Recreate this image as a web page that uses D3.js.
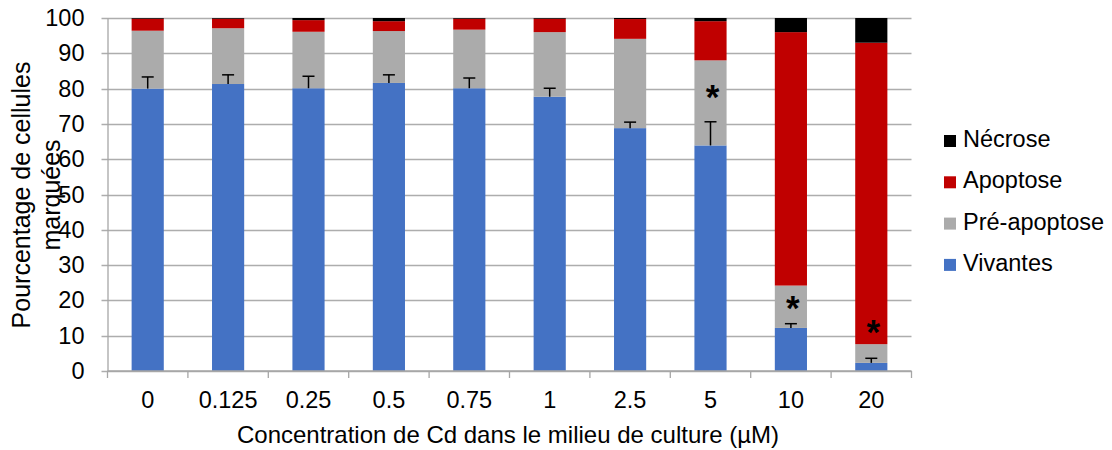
<!DOCTYPE html>
<html>
<head>
<meta charset="utf-8">
<script src="https://cdn.jsdelivr.net/npm/d3@7"></script>
<style>
body { margin: 0; background: #fff; }
text { font-family: "Liberation Sans", Arial, sans-serif; fill: #000; }
</style>
</head>
<body>
<svg id="chart" width="1112" height="450"></svg>
<script>
var concentrations = ["0", "0.125", "0.25", "0.5", "0.75", "1", "2.5", "5", "10", "20"];
var vivantes    = [80.0, 81.3, 80.1, 81.6, 80.1, 77.7, 68.8, 63.9, 12.2, 2.3];
var preApoptose = [16.4, 15.8, 16.0, 14.7, 16.6, 18.3, 25.3, 24.1, 12.0, 5.3];
var apoptose    = [3.4, 2.7, 3.3, 2.8, 3.1, 3.8, 5.6, 11.1, 71.8, 85.4];
var necrose     = [0.2, 0.2, 0.6, 0.9, 0.2, 0.2, 0.3, 0.9, 4.0, 7.0];
var errVivantes = [3.3, 2.6, 3.4, 2.3, 2.9, 2.4, 1.7, 6.7, 1.2, 1.3];
// asterisk (significance) level, by category
var asterisks = [null, null, null, null, null, null, null, 78.7, 19.0, 12.2];
var yTicks = [0, 10, 20, 30, 40, 50, 60, 70, 80, 90, 100];

var seriesNames  = ["Vivantes", "Pré-apoptose", "Apoptose", "Nécrose"];
var seriesColors = ["#4472C4", "#ABABAB", "#C00000", "#000000"];

var svg = d3.select('#chart');
var margin_left = 107.5, margin_right = 911.5, top_y = 18, bottom_y = 371;

var x = d3.scaleBand().domain(concentrations).range([margin_left, margin_right]).paddingInner(0.6).paddingOuter(0.3);
var xb = d3.scaleBand().domain(concentrations).range([margin_left, margin_right]);
var y = d3.scaleLinear().domain([0, 100]).range([bottom_y, top_y]);

var rows = concentrations.map(function(c, i) {
    return { c: c, "Vivantes": vivantes[i], "Pré-apoptose": preApoptose[i], "Apoptose": apoptose[i], "Nécrose": necrose[i] };
});
var stacked = d3.stack().keys(seriesNames)(rows);

// grid
svg.append('g').selectAll('line').data(yTicks).enter().append('line')
    .attr('x1', margin_left - 6).attr('x2', margin_right)
    .attr('y1', function(d) { return Math.round(y(d)) + 0.5; })
    .attr('y2', function(d) { return Math.round(y(d)) + 0.5; })
    .attr('stroke', '#ADADAD').attr('stroke-width', 1.3);

// bars
svg.append('g').selectAll('g').data(stacked).enter().append('g')
    .attr('fill', function(d, i) { return seriesColors[i]; })
    .selectAll('rect').data(function(d) { return d; }).enter().append('rect')
    .attr('x', function(d) { return x(d.data.c); })
    .attr('width', x.bandwidth())
    .attr('y', function(d) { return y(d[1]); })
    .attr('height', function(d) { return y(d[0]) - y(d[1]); });

// error bars (upper only)
var eb = svg.append('g').attr('stroke', '#000').attr('stroke-width', 1.5);
concentrations.forEach(function(c, i) {
    var cx = x(c) + x.bandwidth() / 2;
    eb.append('line').attr('x1', cx).attr('x2', cx)
        .attr('y1', y(vivantes[i])).attr('y2', y(vivantes[i] + errVivantes[i]));
    eb.append('line').attr('x1', cx - 6).attr('x2', cx + 6)
        .attr('y1', y(vivantes[i] + errVivantes[i])).attr('y2', y(vivantes[i] + errVivantes[i]));
});

// asterisks
svg.append('g').selectAll('text').data(concentrations.filter(function(c, i) { return asterisks[i] != null; }))
    .enter().append('text')
    .attr('x', function(c) { return x(c) + x.bandwidth() / 2 + 2; })
    .attr('y', function(c) { return y(asterisks[concentrations.indexOf(c)]) + 16; })
    .attr('text-anchor', 'middle')
    .style('font-size', '35px').style('font-weight', 'bold')
    .text('*');

// axes
var yAxis = d3.axisLeft(y).tickValues(yTicks).tickSize(0).tickPadding(23);
svg.append('g').attr('transform', 'translate(' + margin_left + ',0)').call(yAxis)
    .call(function(g) {
        g.select('.domain').attr('stroke', '#A6A6A6').attr('stroke-width', 1.3);
        g.selectAll('text').style('font-size', '23.5px').attr('font-family', null);
    });

var xAxis = d3.axisBottom(xb).tickSize(0).tickPadding(20);
svg.append('g').attr('transform', 'translate(0,' + bottom_y + ')').call(xAxis)
    .call(function(g) {
        g.select('.domain').remove();
        g.selectAll('text').style('font-size', '23.5px').attr('font-family', null);
    });
svg.append('line').attr('x1', margin_left).attr('x2', margin_right)
    .attr('y1', bottom_y).attr('y2', bottom_y).attr('stroke', '#A6A6A6').attr('stroke-width', 1.3);
svg.append('g').selectAll('line').data(concentrations.concat(['end'])).enter().append('line')
    .attr('x1', function(d) { return d == 'end' ? margin_right : xb(d); })
    .attr('x2', function(d) { return d == 'end' ? margin_right : xb(d); })
    .attr('y1', bottom_y).attr('y2', bottom_y + 7)
    .attr('stroke', '#A6A6A6').attr('stroke-width', 1.3);

// axis titles
svg.append('text').attr('x', 508).attr('y', 443)
    .attr('text-anchor', 'middle').style('font-size', '24px')
    .text('Concentration de Cd dans le milieu de culture (µM)');
var yt = svg.append('text').attr('transform', 'translate(30,195) rotate(-90)')
    .attr('text-anchor', 'middle').style('font-size', '25px');
yt.append('tspan').attr('x', 0).attr('y', 0).text('Pourcentage de cellules');
yt.append('tspan').attr('x', 0).attr('y', 30).text('marquées');

// legend
var legend = svg.append('g').attr('transform', 'translate(944,0)');
var legendOrder = seriesNames.slice().reverse();
legend.selectAll('g').data(legendOrder).enter().append('g')
    .attr('transform', function(d, i) { return 'translate(0,' + (147 + i * 41.3) + ')'; })
    .each(function(d) {
        var g = d3.select(this);
        g.append('rect').attr('x', 0).attr('y', -12).attr('width', 12).attr('height', 12)
            .attr('fill', seriesColors[seriesNames.indexOf(d)]);
        g.append('text').attr('x', 19).attr('y', 0).style('font-size', '23.5px').text(d);
    });
</script>
</body>
</html>
